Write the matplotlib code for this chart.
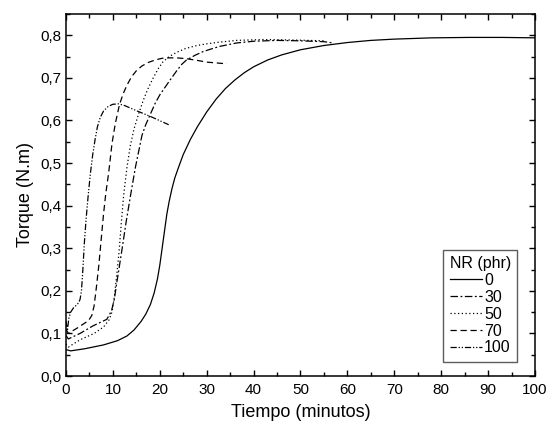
import matplotlib
matplotlib.use("Agg")
import matplotlib.pyplot as plt
from matplotlib.ticker import MultipleLocator, FuncFormatter

plt.rcParams['font.family'] = ['Liberation Sans', 'DejaVu Sans']

# NR 0 phr (solid)
t_0 = [0, 1, 4, 8, 11, 13, 14.5, 16, 17, 18, 18.8, 19.5, 20, 20.5, 21, 21.5, 22,
       22.6, 23.2, 24, 25, 26.5, 28, 30, 32, 34, 36, 38, 40, 43, 46, 50, 55, 60,
       65, 70, 78, 86, 93, 100]
tq_0 = [0.062, 0.059, 0.064, 0.073, 0.083, 0.094, 0.108, 0.128, 0.145, 0.168,
        0.195, 0.228, 0.26, 0.30, 0.34, 0.38, 0.41, 0.44, 0.465, 0.49, 0.52,
        0.555, 0.585, 0.62, 0.65, 0.675, 0.695, 0.712, 0.726, 0.742, 0.754,
        0.766, 0.776, 0.783, 0.788, 0.791, 0.794, 0.795, 0.795, 0.794]

# NR 30 phr (dash-dot)
t_30 = [0, 0.5, 3, 5.8, 8.7, 9.7, 10.3, 10.9, 11.9, 12.8, 13.7, 14.8, 16.2, 17,
        18, 19, 20, 21, 22.2, 23.5, 24.7, 25.7, 27.5, 29.3, 31, 32.8, 36.4, 40,
        45, 50, 55, 57]
tq_30 = [0.095, 0.087, 0.10, 0.118, 0.133, 0.153, 0.18, 0.224, 0.294, 0.36, 0.42,
         0.49, 0.565, 0.59, 0.615, 0.64, 0.66, 0.676, 0.695, 0.715, 0.732, 0.742,
         0.753, 0.762, 0.768, 0.774, 0.782, 0.786, 0.788, 0.787, 0.785, 0.782]

# NR 50 phr (dotted)
t_50 = [0, 0.5, 3, 6, 8, 9.2, 9.8, 10.3, 10.8, 11.3, 11.8, 12.3, 13, 13.7, 14.5,
        15.5, 16.5, 17.5, 18.6, 19.7, 20.7, 22, 23.6, 25.5, 27.9, 30, 32.8, 36.4,
        42, 48, 55]
tq_50 = [0.075, 0.068, 0.085, 0.10, 0.115, 0.132, 0.15, 0.185, 0.235, 0.29, 0.36,
         0.425, 0.49, 0.54, 0.58, 0.616, 0.648, 0.675, 0.70, 0.722, 0.738, 0.75,
         0.76, 0.769, 0.776, 0.78, 0.784, 0.788, 0.79, 0.789, 0.787]

# NR 70 phr (dashed)
t_70 = [0, 0.5, 2.6, 4.8, 5.5, 6.0, 6.5, 7.0, 7.5, 8.0, 8.5, 9.1, 9.8, 10.5, 11.4,
        12.2, 13, 14, 15.1, 16.2, 17.5, 19, 20.5, 22, 23.6, 25.7, 28, 30, 34.3]
tq_70 = [0.11, 0.10, 0.114, 0.13, 0.142, 0.165, 0.21, 0.26, 0.32, 0.38, 0.43,
         0.477, 0.545, 0.592, 0.637, 0.663, 0.683, 0.703, 0.718, 0.728, 0.736,
         0.742, 0.746, 0.747, 0.747, 0.745, 0.741, 0.737, 0.733]

# NR 100 phr (dash-dot-dot)
t_100 = [0, 0.3, 0.6, 1, 1.6, 2.2, 2.7, 3.0, 3.3, 3.6, 3.9, 4.3, 4.7, 5.2, 5.7,
         6.2, 6.7, 7.3, 8, 9, 10, 11.2, 12.5, 14.8, 18.3, 21.9]
tq_100 = [0.13, 0.106, 0.135, 0.15, 0.16, 0.166, 0.172, 0.18, 0.2, 0.25, 0.31,
          0.37, 0.42, 0.475, 0.52, 0.555, 0.585, 0.607, 0.622, 0.633, 0.638,
          0.639, 0.635, 0.624, 0.608, 0.59]

labels = ['0', '30', '50', '70', '100']

fig = plt.figure(figsize=(5.49, 4.24), dpi=100)
ax = fig.add_axes([0.1202, 0.1132, 0.8543, 0.8538])

lw = 0.9
ax.plot(t_0, tq_0, color='black', lw=lw, linestyle='-', label=labels[0])
ax.plot(t_30, tq_30, color='black', lw=lw, linestyle=(0, (6, 2, 1.5, 2)), label=labels[1])
ax.plot(t_50, tq_50, color='black', lw=lw, linestyle=(0, (1, 2)), label=labels[2])
ax.plot(t_70, tq_70, color='black', lw=lw, linestyle=(0, (5, 3)), label=labels[3])
ax.plot(t_100, tq_100, color='black', lw=lw,
        linestyle=(0, (5, 1.5, 1, 1.5, 1, 1.5)), label=labels[4])

ax.set_xlim(0, 100)
ax.set_ylim(0, 0.85)
ax.xaxis.set_major_locator(MultipleLocator(10))
ax.xaxis.set_minor_locator(MultipleLocator(5))
ax.yaxis.set_major_locator(MultipleLocator(0.1))
ax.yaxis.set_minor_locator(MultipleLocator(0.05))
ax.yaxis.set_major_formatter(FuncFormatter(lambda v, p: f"{v:.1f}".replace('.', ',')))
ax.xaxis.set_major_formatter(FuncFormatter(lambda v, p: f"{v:.0f}"))

ax.tick_params(which='both', direction='in', top=True, right=True, width=1.0)
ax.tick_params(which='major', length=4.5, labelsize=11)
ax.tick_params(axis='x', which='major', pad=5)
ax.tick_params(axis='y', which='major', pad=3)
ax.tick_params(which='minor', length=3)
for s in ax.spines.values():
    s.set_linewidth(1.1)

ax.set_xlabel('Tiempo (minutos)', fontsize=13, labelpad=5)
ax.set_ylabel('Torque (N.m)', fontsize=13, labelpad=5)

leg = ax.legend(title='NR (phr)', fontsize=11.5, title_fontsize=11.5,
                loc='lower right', bbox_to_anchor=(0.962, 0.039),
                frameon=True, fancybox=False, edgecolor='#333333',
                handlelength=2.0, handletextpad=0.15, labelspacing=0.12,
                borderpad=0.4, borderaxespad=0.0)
leg.get_frame().set_linewidth(1.0)

fig.savefig('out.png', dpi=100)
